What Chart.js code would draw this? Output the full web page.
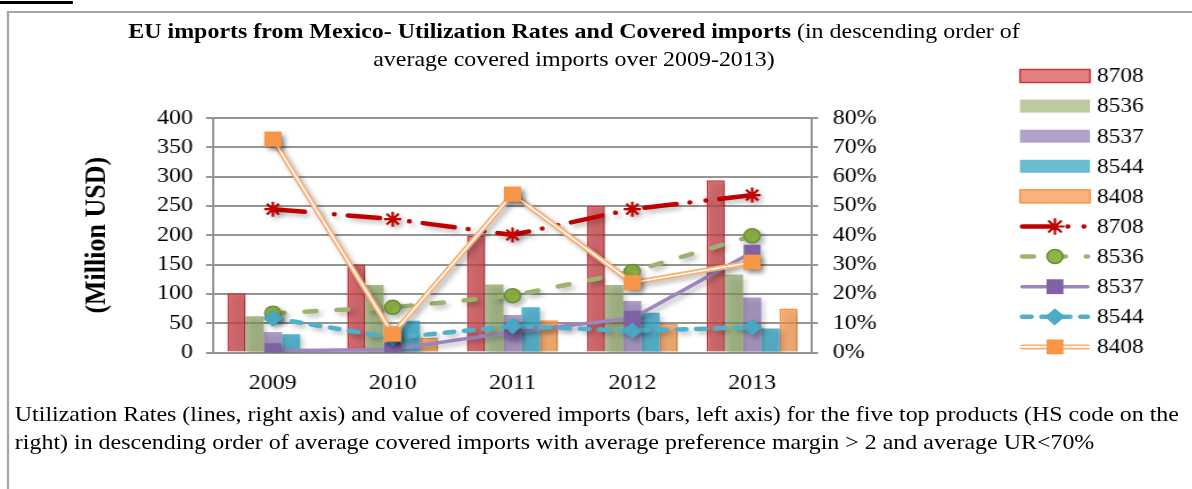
<!DOCTYPE html>
<html>
<head>
<meta charset="utf-8">
<script src="https://cdn.jsdelivr.net/npm/chart.js@4.4.1/dist/chart.umd.min.js"></script>
<style>
  html, body { margin: 0; padding: 0; background: #fff; }
  body { width: 1192px; height: 489px; position: relative; overflow: hidden; font-family: "Liberation Serif", "Times New Roman", serif; color: #000; }
  /* the reference is a horizontally stretched figure: draw narrow, then widen */
  #wrap { position: absolute; left: 0; top: 0; width: 1046px; height: 489px; transform: scaleX(1.14); transform-origin: 0 0; }
  #frame { position: absolute; left: 6px; top: 11px; width: 1100px; height: 500px; border: 2px solid #a6a6a6; box-sizing: border-box; }
  #corner { position: absolute; left: 0; top: 1px; width: 64px; height: 3px; background: #000; }
  #title { position: absolute; left: 3.5px; width: 1000px; top: 17px; text-align: center; font-size: 21px; line-height: 28px; }
  #caption { position: absolute; left: 13px; top: 400px; width: 1026px; font-size: 21px; line-height: 28px; }
  #chart { position: absolute; left: 0; top: 0; }
</style>
</head>
<body>
<div id="wrap">
<div id="frame"></div>
<div id="corner"></div>
<canvas id="chart" width="1046" height="489"></canvas>
<div id="title"><b>EU imports from Mexico- Utilization Rates and Covered imports</b> (in descending order of<br>average covered imports over 2009-2013)</div>
<div id="caption">Utilization Rates (lines, right axis) and value of covered imports (bars, left axis) for the five top products (HS code on the right) in descending order of average covered imports with average preference margin &gt; 2 and average UR&lt;70%</div>
</div>
<script>
const $ = document.querySelector.bind(document)

// categories and HS codes
const years = ["2009", "2010", "2011", "2012", "2013"]
const codes = ["8708", "8536", "8537", "8544", "8408"]

// covered imports, million USD (bars, left axis)
const imports8708 = [101, 150, 199, 250, 294]
const imports8536 = [62, 115, 116, 115, 133]
const imports8537 = [35, 14, 64, 88, 94]
const imports8544 = [31, 54, 77, 68, 41]
const imports8408 = [4, 25, 55, 49, 75]

// utilization rates, % (lines, right axis)
const ur8708 = [48.9, 45.5, 40.1, 48.9, 53.7]
const ur8536 = [13.4, 15.4, 19.4, 27.6, 39.8]
const ur8537 = [0.6, 1.0, 7.1, 11.7, 34.2]
const ur8544 = [11.7, 5.0, 9.0, 7.4, 8.6]
const ur8408 = [72.8, 6.3, 54.0, 23.8, 30.8]

// axis ticks
const leftTicks = [0, 50, 100, 150, 200, 250, 300, 350, 400]
const rightTicks = [0, 10, 20, 30, 40, 50, 60, 70, 80]

const serif = "'Liberation Serif', 'Times New Roman', serif"
const tickFont = { family: serif, size: 21 }
const gridColor = "#959595"

function bar(label, data, fill, border, legendFill) {
    return {
        type: "bar", label, data, yAxisID: "y", order: 10,
        backgroundColor: fill,
        borderColor: border || fill,
        borderWidth: border ? 1.5 : 0,
        legendFill: legendFill || fill,
        categoryPercentage: 0.76,
        barPercentage: 1.0,
    }
}

function line(label, data, opts) {
    return Object.assign({
        type: "line", label, data, yAxisID: "y1",
        fill: false, tension: 0,
        borderCapStyle: "round",
        pointBorderWidth: 1.5,
    }, opts)
}

const datasets = [
    bar(codes[0], imports8708, "rgba(200,70,75,0.78)", "#d0343a", "#e08080"),
    bar(codes[1], imports8536, "rgba(128,154,88,0.68)", null, "#bccb9d"),
    bar(codes[2], imports8537, "rgba(134,108,171,0.66)", null, "#b1a2cb"),
    bar(codes[3], imports8544, "rgba(50,160,192,0.8)", null, "#6abdd1"),
    bar(codes[4], imports8408, "rgba(247,150,70,0.72)", "#f79646", "#fab27c"),
    line(codes[0], ur8708, {
        order: 5, borderColor: "#c00000", borderWidth: 4.5,
        borderDash: [28, 12, 0.1, 14, 0.1, 12],
        pointStyle: "star", pointRadius: 7.5, pointBorderWidth: 2.2,
        pointBorderColor: "#c00000", pointBackgroundColor: "#c00000",
    }),
    line(codes[1], ur8536, {
        order: 4, borderColor: "#9db26c", borderWidth: 4.5,
        borderDash: [10, 18],
        pointStyle: "circle", pointRadius: 7,
        pointBorderColor: "#6f8b35", pointBackgroundColor: "#8db446",
    }),
    line(codes[2], ur8537, {
        order: 3, borderColor: "#9d86bf", borderWidth: 3.5,
        pointStyle: "rect", pointRadius: 10.5, pointBorderWidth: 0,
        pointBorderColor: "#7e62a5", pointBackgroundColor: "#7e62a5",
    }),
    line(codes[3], ur8544, {
        order: 2, borderColor: "#4fb0cc", borderWidth: 4.5,
        borderDash: [8, 9],
        pointStyle: "rectRot", pointRadius: 8, pointBorderWidth: 1,
        pointBorderColor: "#41a3bf", pointBackgroundColor: "#4bacc6",
    }),
    line(codes[4], ur8408, {
        order: 1, borderColor: "#f9ae74", borderWidth: 5,
        doubleLine: true,
        pointStyle: "rect", pointRadius: 10.5, pointBorderWidth: 0,
        pointBorderColor: "#f79646", pointBackgroundColor: "#f79646",
    }),
]

// soft drop shadow under bars and lines
const shadows = {
    id: "shadows",
    beforeDatasetsDraw(chart) {
        const ctx = chart.ctx
        ctx.save()
        ctx.shadowColor = "rgba(0,0,0,0.28)"
        ctx.shadowBlur = 5
        ctx.shadowOffsetX = 3
        ctx.shadowOffsetY = 3
    },
    afterDatasetsDraw(chart) {
        chart.ctx.restore()
    }
}

// compound (double) line: thin white stroke down the middle, then markers on top
const doubleLine = {
    id: "doubleLine",
    afterDatasetDraw(chart, args) {
        const ds = chart.data.datasets[args.index]
        if (!ds.doubleLine) return
        const ctx = chart.ctx
        const pts = args.meta.data
        ctx.save()
        ctx.shadowColor = "transparent"
        ctx.strokeStyle = "#fff"
        ctx.lineWidth = 1.6
        ctx.beginPath()
        pts.forEach((p, j) => j ? ctx.lineTo(p.x, p.y) : ctx.moveTo(p.x, p.y))
        ctx.stroke()
        ctx.restore()
        pts.forEach(p => p.draw(ctx, chart.chartArea))
    }
}

// legend on the right, one row per dataset
const sideLegend = {
    id: "sideLegend",
    afterDraw(chart) {
        const ctx = chart.ctx
        const x0 = 894.7, y0 = 76, step = 30.1, w = 61.4
        chart.data.datasets.forEach((ds, i) => {
            const y = y0 + i * step
            ctx.save()
            if (ds.type === "bar") {
                ctx.fillStyle = ds.legendFill
                ctx.fillRect(x0, y - 6.5, w, 13)
                if (ds.borderWidth) {
                    ctx.strokeStyle = ds.borderColor
                    ctx.lineWidth = 1.5
                    ctx.strokeRect(x0, y - 6.5, w, 13)
                }
            } else {
                ctx.strokeStyle = ds.borderColor
                ctx.lineWidth = ds.borderWidth
                ctx.lineCap = "round"
                ctx.setLineDash(ds.borderDash || [])
                ctx.beginPath()
                ctx.moveTo(x0 + 2, y)
                ctx.lineTo(x0 + w - 2, y)
                ctx.stroke()
                ctx.setLineDash([])
                if (ds.doubleLine) {
                    ctx.strokeStyle = "#fff"
                    ctx.lineWidth = 1.6
                    ctx.beginPath()
                    ctx.moveTo(x0, y)
                    ctx.lineTo(x0 + w, y)
                    ctx.stroke()
                }
                ctx.fillStyle = ds.pointBackgroundColor
                ctx.strokeStyle = ds.pointBorderColor
                ctx.lineWidth = ds.pointBorderWidth
                Chart.helpers.drawPoint(ctx, {
                    pointStyle: ds.pointStyle, rotation: 0,
                    radius: ds.pointRadius, borderWidth: ds.pointBorderWidth
                }, x0 + 30.7, y)
            }
            ctx.fillStyle = "#000"
            ctx.font = "20.5px " + serif
            ctx.textBaseline = "middle"
            ctx.fillText(ds.label, 962.3, y + 1)
            ctx.restore()
        })
    }
}

new Chart($("#chart"), {
    data: { labels: years, datasets },
    plugins: [shadows, doubleLine, sideLegend],
    options: {
        responsive: false,
        animation: false,
        layout: { padding: { left: 69, top: 118, right: 240, bottom: 86.5 } },
        plugins: {
            legend: { display: false },
            tooltip: { enabled: false },
            title: { display: false },
        },
        scales: {
            x: {
                grid: { display: false, drawTicks: false },
                border: { display: true, color: gridColor, width: 2 },
                ticks: { font: tickFont, color: "#000", padding: 18 },
                afterFit: s => { s.height = 50 },
            },
            y: {
                position: "left",
                min: leftTicks[0], max: leftTicks[leftTicks.length - 1],
                afterBuildTicks: s => { s.ticks = leftTicks.map(v => ({ value: v })) },
                grid: { color: gridColor, lineWidth: 2, tickLength: 6 },
                border: { color: gridColor, width: 2 },
                ticks: { font: tickFont, color: "#000", padding: 11.5 },
                title: {
                    display: true, text: "(Million USD)", color: "#000",
                    font: { family: serif, size: 26, weight: "bold" },
                    padding: { top: 0.5, bottom: 0 },
                },
                afterFit: s => { s.width = 117.8 },
            },
            y1: {
                position: "right",
                min: rightTicks[0], max: rightTicks[rightTicks.length - 1],
                afterBuildTicks: s => { s.ticks = rightTicks.map(v => ({ value: v })) },
                grid: { drawOnChartArea: false, color: gridColor, lineWidth: 2, tickLength: 5.3 },
                border: { color: gridColor, width: 2 },
                ticks: { font: tickFont, color: "#000", padding: 13, callback: v => `${v}%` },
                afterFit: s => { s.width = 93.7 },
            },
        },
    },
})
</script>
</body>
</html>
